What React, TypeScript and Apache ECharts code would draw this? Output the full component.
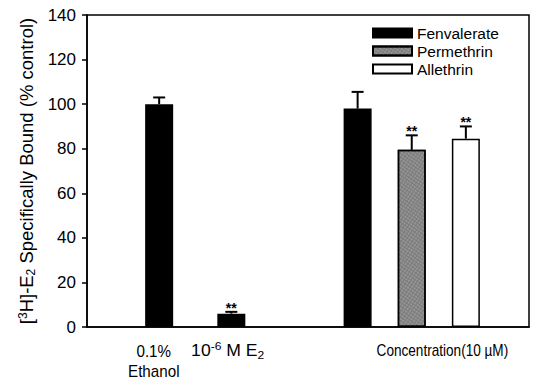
import React, { useEffect, useRef } from "react";
import * as echarts from "echarts";

// ---- data ----
const controlPositions = [4, 8];
const controlValues = [100, 6];
const controlErrors = [3, 0.8];
const controlStars = ["", "**"];

const pesticideNames = ["Fenvalerate", "Permethrin", "Allethrin"];
const pesticidePositions = [15, 18, 21];
const pesticideValues = [98, 79.5, 84.5];
const pesticideErrors = [7.5, 6.5, 5.5];
const pesticideStars = ["", "**", "**"];

const yTicks = [0, 20, 40, 60, 80, 100, 120, 140];
const xLabels = ["0.1%\nEthanol", "10{sup|-6} M E{sub|2}", "Concentration(10 µM)"];
const xLabelAt = [3.7, 7.8, 19.7];

const FONT = "Liberation Sans, Arial, Helvetica, sans-serif";

export default function App() {
  const ref = useRef<HTMLDivElement>(null);
  useEffect(() => {
    if (!ref.current) return;
    const chart = echarts.init(ref.current, undefined, { renderer: "svg" });

    const fills = ["#000000", "#7c7c7c", "#ffffff"];
    const pesticideSeries = pesticideNames.map((name, i) => ({
      name,
      type: "bar",
      barWidth: 28,
      barGap: "-100%",
      itemStyle: {
        color: fills[i],
        borderColor: "#000",
        borderWidth: 1.5,
        decal:
          i === 1
            ? {
                symbol: "circle",
                symbolSize: 0.8,
                dashArrayX: [2, 1],
                dashArrayY: [2, 1],
                rotation: 0.6,
                color: "rgba(255,255,255,0.3)",
              }
            : undefined,
      },
      data: [[pesticidePositions[i], pesticideValues[i]]],
      z: 2,
    }));

    const errData = [
      ...controlPositions.map((x, i) => [x, controlValues[i], controlErrors[i], controlStars[i]]),
      ...pesticidePositions.map((x, i) => [x, pesticideValues[i], pesticideErrors[i], pesticideStars[i]]),
    ];

    const yMax = yTicks[yTicks.length - 1];

    chart.setOption({
      animation: false,
      textStyle: { fontFamily: FONT, color: "#000" },
      grid: {
        left: 87,
        right: 6,
        top: 15,
        bottom: 59,
        show: true,
        borderColor: "#000",
        borderWidth: 1.5,
      },
      legend: {
        data: pesticideNames,
        orient: "vertical",
        left: 367,
        top: 20,
        itemWidth: 39,
        itemHeight: 9,
        itemGap: 2,
        icon: "rect",
        textStyle: { fontSize: 15.5, lineHeight: 16, color: "#000", fontFamily: FONT },
      },
      xAxis: {
        type: "value",
        min: 0,
        max: 24.5,
        interval: 1,
        axisLine: { show: true, lineStyle: { color: "#000", width: 1.5 } },
        axisTick: { show: false },
        axisLabel: { show: false },
        splitLine: { show: false },
      },
      yAxis: {
        type: "value",
        min: yTicks[0],
        max: yMax,
        interval: yTicks[1] - yTicks[0],
        axisLine: { show: true, lineStyle: { color: "#000", width: 1.5 } },
        axisTick: { show: true, length: 5, lineStyle: { color: "#000", width: 1.5 } },
        axisLabel: { margin: 11, fontSize: 17, color: "#000", fontFamily: FONT },
        splitLine: { show: false },
        name: "[{sup|3}H]-E{sub|2} Specifically Bound (% control)",
        nameLocation: "middle",
        nameGap: 50,
        nameTextStyle: {
          fontSize: 18.5,
          color: "#000",
          fontFamily: FONT,
          rich: {
            sup: { fontSize: 12, verticalAlign: "top", padding: [0, 0, 8, 0], fontFamily: FONT },
            sub: { fontSize: 12, verticalAlign: "bottom", padding: [8, 0, 0, 0], fontFamily: FONT },
          },
        },
      },
      series: [
        {
          name: "Control",
          type: "bar",
          barWidth: 28,
          barGap: "-100%",
          itemStyle: { color: "#000", borderColor: "#000", borderWidth: 1.5 },
          data: controlPositions.map((x, i) => [x, controlValues[i]]),
          z: 2,
        },
        ...pesticideSeries,
        {
          type: "custom",
          z: 3,
          data: errData,
          encode: { x: 0, y: 1 },
          renderItem: (params: any, api: any) => {
            const x = api.value(0);
            const y = api.value(1);
            const e = api.value(2);
            const s = api.value(3);
            const base = api.coord([x, y]);
            const top = api.coord([x, y + e]);
            const children: any[] = [
              { type: "line", shape: { x1: base[0], y1: base[1], x2: top[0], y2: top[1] }, style: { stroke: "#000", lineWidth: 2 } },
              { type: "line", shape: { x1: top[0] - 6, y1: top[1], x2: top[0] + 6, y2: top[1] }, style: { stroke: "#000", lineWidth: 2 } },
            ];
            if (s) {
              children.push({
                type: "text",
                style: {
                  text: String(s),
                  x: top[0],
                  y: top[1] + 3,
                  align: "center",
                  verticalAlign: "bottom",
                  fontSize: 14,
                  fontWeight: "bold",
                  fontFamily: FONT,
                  fill: "#000",
                },
              });
            }
            return { type: "group", children };
          },
        },
      ],
    });

    const labelY = chart.convertToPixel({ gridIndex: 0 }, [0, 0])[1] + 14;
    const labelScale = [0.95, 1.1, 0.85];
    chart.setOption({
      graphic: xLabels.map((t, i) => {
        const px = chart.convertToPixel({ gridIndex: 0 }, [xLabelAt[i], 0])[0];
        return {
          type: "text",
          x: px,
          y: labelY,
          scaleX: labelScale[i],
          style: {
            text: t,
            x: 0,
            y: 0,
            align: "center",
            verticalAlign: "top",
            fontSize: 16,
            lineHeight: 20,
            fontFamily: FONT,
            fill: "#000",
            rich: {
              sup: { fontSize: 11, verticalAlign: "top", padding: [0, 0, 8, 0], fontFamily: FONT, lineHeight: 20 },
              sub: { fontSize: 11, verticalAlign: "bottom", padding: [8, 0, 0, 0], fontFamily: FONT, lineHeight: 20 },
            },
          },
        };
      }),
    });

    return () => chart.dispose();
  }, []);
  return <div ref={ref} style={{ width: 535, height: 386, position: "absolute", left: 0, top: 0 }} />;
}
